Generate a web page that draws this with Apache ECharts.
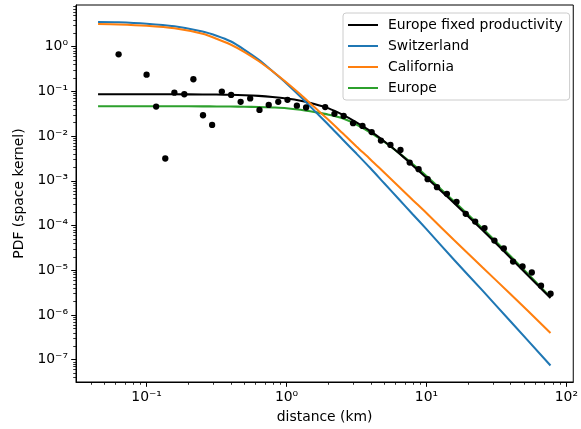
<!DOCTYPE html>
<html>
<head>
<meta charset="utf-8">
<title>Space kernel PDF</title>
<script src="https://cdn.jsdelivr.net/npm/echarts@6.0.0/dist/echarts.min.js"></script>
<style>
  html, body { margin: 0; padding: 0; background: #ffffff; }
  #chart { width: 581px; height: 429px; }
</style>
</head>
<body>
<div id="chart"></div>
<script>
// Distances (km) at which the fitted kernels are drawn
const modelDistance = [0.045, 0.063, 0.1, 0.158, 0.251, 0.316, 0.398, 0.501, 0.631, 0.794,
  1.0, 1.26, 1.58, 2.0, 2.51, 3.16, 3.98, 5.01, 6.31, 7.94, 10, 15.8, 25.1, 39.8, 77];

// Fitted kernel densities at modelDistance
const europeFixedPdf = [0.0863, 0.0863, 0.0863, 0.0861, 0.0855, 0.0849, 0.0839, 0.0822, 0.0794, 0.0750,
  0.0692, 0.0617, 0.0525, 0.0417, 0.0302, 0.0204, 0.0129, 0.00759, 0.00427, 0.00224,
  0.00117, 3.16e-4, 7.94e-5, 1.91e-5, 2.40e-6];
const switzerlandPdf = [3.56, 3.52, 3.27, 2.85, 2.19, 1.76, 1.32, 0.851, 0.513, 0.282,
  0.151, 0.0759, 0.0372, 0.0178, 0.00851, 0.00407, 0.00191, 8.71e-4, 3.98e-4, 1.82e-4,
  8.32e-5, 1.70e-5, 3.55e-6, 7.24e-7, 7.46e-8];
const californiaPdf = [3.21, 3.14, 2.93, 2.57, 1.94, 1.51, 1.12, 0.759, 0.479, 0.282,
  0.158, 0.0851, 0.0447, 0.0229, 0.0117, 0.00589, 0.00302, 0.00151, 7.59e-4, 3.80e-4,
  1.91e-4, 4.68e-5, 1.17e-5, 2.95e-6, 3.98e-7];
const europePdf = [0.0466, 0.0466, 0.0466, 0.0465, 0.0463, 0.0461, 0.0458, 0.0454, 0.0447, 0.0437,
  0.0422, 0.0389, 0.0347, 0.0302, 0.0251, 0.0182, 0.0120, 0.00741, 0.00427, 0.00240,
  0.00129, 3.47e-4, 8.71e-5, 2.09e-5, 2.51e-6];

// Empirical kernel (binned observations)
const observedDistance = [0.0631, 0.1, 0.117, 0.136, 0.158, 0.186, 0.216, 0.253, 0.294, 0.345,
  0.402, 0.470, 0.550, 0.641, 0.746, 0.873, 1.016, 1.186, 1.38, 1.89,
  2.20, 2.56, 2.99, 3.49, 4.06, 4.73, 5.53, 6.52, 7.59, 8.79,
  10.2, 11.9, 14.0, 16.4, 19.1, 22.3, 26.0, 30.6, 35.7, 41.6,
  48.6, 56.6, 65.9, 77.1];
const observedPdf = [0.676, 0.237, 0.0457, 0.00316, 0.0938, 0.0863, 0.187, 0.0293, 0.0178, 0.0989,
  0.0834, 0.0586, 0.0695, 0.0385, 0.0499, 0.0586, 0.0649, 0.0479, 0.0437, 0.0447,
  0.0316, 0.0283, 0.0195, 0.0169, 0.0123, 0.00794, 0.00637, 0.00492, 0.00256, 0.00182,
  0.00109, 7.23e-4, 5.12e-4, 3.39e-4, 1.83e-4, 1.23e-4, 8.77e-5, 4.63e-5, 3.07e-5, 1.57e-5,
  1.22e-5, 8.93e-6, 4.51e-6, 2.99e-6];

// Axis decades and their labels
const xTickValues = [0.1, 1, 10, 100];
const xTickLabels = ['10\u207B\u00B9', '10\u2070', '10\u00B9', '10\u00B2'];
const yTickValues = [1e-7, 1e-6, 1e-5, 1e-4, 1e-3, 1e-2, 1e-1, 1];
const yTickLabels = ['10\u207B\u2077', '10\u207B\u2076', '10\u207B\u2075', '10\u207B\u2074',
  '10\u207B\u00B3', '10\u207B\u00B2', '10\u207B\u00B9', '10\u2070'];

const seriesNames = ['Europe fixed productivity', 'Switzerland', 'California', 'Europe'];
const seriesColors = ['#000000', '#1f77b4', '#ff7f0e', '#2ca02c'];

const X_MIN = 0.0313, X_MAX = 112;
const Y_MIN = 3.18e-8, Y_MAX = 8.55;
const FONT = 'DejaVu Sans';
const FONT_SIZE = 13.9;

// minor ticks at 2..9 x 10^n inside the axis range
function minorTicks(lo, hi) {
  const out = [];
  for (let e = Math.floor(Math.log10(lo)); e <= Math.ceil(Math.log10(hi)); e++) {
    for (let k = 2; k <= 9; k++) {
      const v = k * Math.pow(10, e);
      if (v >= lo && v <= hi) out.push(v);
    }
  }
  return out;
}

function labelFor(values, labels) {
  return function (v) {
    let best = 0, bestD = Infinity;
    values.forEach((t, i) => {
      const d = Math.abs(Math.log10(t) - Math.log10(v));
      if (d < bestD) { bestD = d; best = i; }
    });
    return labels[best];
  };
}

function pairs(xs, ys) { return xs.map((x, i) => [x, ys[i]]); }

function curve(name, color, ys) {
  return {
    name: name, type: 'line', data: pairs(modelDistance, ys),
    color: color, symbol: 'none', showSymbol: false, smooth: 0.3,
    lineStyle: { color: color, width: 2.05 }, clip: true,
    emphasis: { disabled: true }
  };
}

const chart = echarts.init(document.getElementById('chart'), null, { renderer: 'canvas' });

const axisText = { color: '#000000', fontFamily: FONT, fontSize: FONT_SIZE };

chart.setOption({
  animation: false,
  backgroundColor: '#ffffff',
  textStyle: { fontFamily: FONT },
  grid: {
    left: 76, right: 4, top: 5, bottom: 47,
    show: true, borderColor: '#000000', borderWidth: 1, backgroundColor: 'transparent'
  },
  legend: {
    data: seriesNames,
    orient: 'vertical', align: 'left',
    left: 343, top: 13,
    padding: [4, 7, 4, 5],
    itemWidth: 30, itemHeight: 2, itemGap: 5,
    icon: 'rect',
    backgroundColor: 'rgba(255,255,255,0.8)',
    borderColor: '#cccccc', borderWidth: 1, borderRadius: 3,
    textStyle: { color: '#000000', fontFamily: FONT, fontSize: FONT_SIZE, lineHeight: 16, padding: [0, 0, 0, 5] },
    selectedMode: false
  },
  xAxis: [
    {
      type: 'log', logBase: 10, min: X_MIN, max: X_MAX,
      name: 'distance (km)', nameLocation: 'middle', nameGap: 28,
      nameTextStyle: axisText,
      axisLine: { show: true, onZero: false, lineStyle: { color: '#000000', width: 1 } },
      axisTick: { show: true, customValues: xTickValues, length: 4.8, lineStyle: { color: '#000000', width: 1 } },
      axisLabel: { show: true, customValues: xTickValues, margin: 8, formatter: labelFor(xTickValues, xTickLabels), ...axisText },
      splitLine: { show: false }, minorTick: { show: false }
    },
    {
      type: 'log', logBase: 10, min: X_MIN, max: X_MAX, position: 'bottom',
      axisLine: { show: false },
      axisTick: { show: true, customValues: minorTicks(X_MIN, X_MAX), length: 2.8, lineStyle: { color: '#000000', width: 0.8 } },
      axisLabel: { show: false }, splitLine: { show: false }
    }
  ],
  yAxis: [
    {
      type: 'log', logBase: 10, min: Y_MIN, max: Y_MAX,
      name: 'PDF (space kernel)', nameLocation: 'middle', nameGap: 50, nameRotate: 90,
      nameTextStyle: axisText,
      axisLine: { show: true, onZero: false, lineStyle: { color: '#000000', width: 1 } },
      axisTick: { show: true, customValues: yTickValues, length: 4.8, lineStyle: { color: '#000000', width: 1 } },
      axisLabel: { show: true, customValues: yTickValues, margin: 8, formatter: labelFor(yTickValues, yTickLabels), ...axisText },
      splitLine: { show: false }, minorTick: { show: false }
    },
    {
      type: 'log', logBase: 10, min: Y_MIN, max: Y_MAX, position: 'left',
      axisLine: { show: false },
      axisTick: { show: true, customValues: minorTicks(Y_MIN, Y_MAX), length: 2.8, lineStyle: { color: '#000000', width: 0.8 } },
      axisLabel: { show: false }, splitLine: { show: false }
    }
  ],
  series: [
    curve(seriesNames[3], seriesColors[3], europePdf),
    curve(seriesNames[0], seriesColors[0], europeFixedPdf),
    curve(seriesNames[1], seriesColors[1], switzerlandPdf),
    curve(seriesNames[2], seriesColors[2], californiaPdf),
    {
      name: 'observed', type: 'scatter', data: pairs(observedDistance, observedPdf),
      symbol: 'circle', symbolSize: 6.3,
      itemStyle: { color: '#000000', opacity: 1 },
      emphasis: { disabled: true }, z: 3
    }
  ]
});
</script>
</body>
</html>
